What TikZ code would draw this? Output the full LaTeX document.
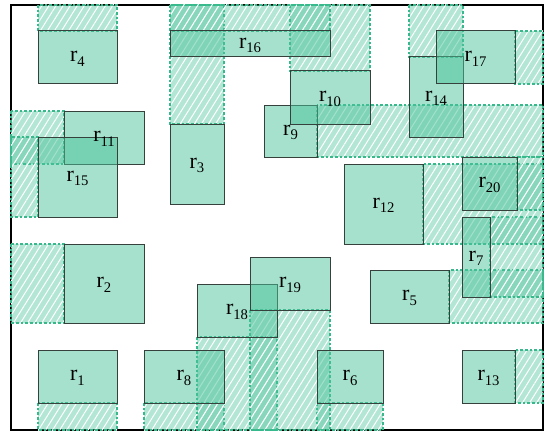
\documentclass[tikz,border=0pt]{standalone}
\usepackage{fontspec}
\setmainfont{Liberation Serif}
\usetikzlibrary{patterns.meta}
\definecolor{tealfill}{RGB}{75,195,155}
\definecolor{tealline}{RGB}{55,185,140}
\definecolor{boxline}{RGB}{55,65,60}
\newcommand\extrect[4]{%
  \path[extfill] (#1,#2) rectangle (#3,#4);
  \path[exthatch] (#1,#2) rectangle (#3,#4);
  \path[extedge] (#1,#2) rectangle (#3,#4);}
\newcommand\solidrect[5]{%
  \path[solidbox] (#2,#3) rectangle (#4,#5);
  \coordinate (c#1) at ({(#2+#4)/2},{(#3+#5)/2+1.5});}
\newcommand\sublab[1]{r\raisebox{-0.45ex}{\fontsize{11}{12}\selectfont #1}}
\begin{document}
\begin{tikzpicture}[x=0.75pt, y=-0.75pt,
  extfill/.style={fill=tealfill, fill opacity=0.42},
  exthatch/.style={pattern={Lines[angle=58,distance=4.5pt,line width=0.75pt]}, pattern color=white, fill opacity=0.6},
  extedge/.style={draw=tealline, line width=0.8pt, dash pattern=on 2pt off 1.5pt},
  solidbox/.style={fill=tealfill, fill opacity=0.5, draw=boxline, draw opacity=1, line width=0.75pt},
  lbl/.style={font=\fontsize{16.5}{18}\selectfont, inner sep=0pt, text opacity=1},
  frame/.style={draw=black, line width=1pt}]
\useasboundingbox (0,0) rectangle (546,435);
\path[frame] (11,5) rectangle (543,430);
% extensions
\extrect{38}{403}{117}{430}
\extrect{11}{244}{64}{323}
\extrect{170}{5}{224}{124}
\extrect{38}{5}{117}{31}
\extrect{449}{270}{543}{323}
\extrect{317}{403}{383}{430}
\extrect{490}{217}{543}{297}
\extrect{144}{403}{224}{430}
\extrect{317}{105}{543}{157}
\extrect{290}{5}{370}{71}
\extrect{11}{111}{64}{164}
\extrect{423}{164}{543}{244}
\extrect{515}{350}{543}{403}
\extrect{409}{5}{463}{57}
\extrect{11}{137}{38}{217}
\extrect{170}{5}{330}{31}
\extrect{515}{31}{543}{84}
\extrect{197}{337}{277}{430}
\extrect{250}{310}{330}{430}
\extrect{517}{157}{543}{210}
% solid boxes
\solidrect{1}{38}{350}{117}{403}
\solidrect{2}{64}{244}{144}{323}
\solidrect{3}{170}{124}{224}{204}
\solidrect{4}{38}{31}{117}{84}
\solidrect{5}{370}{270}{449}{323}
\solidrect{6}{317}{350}{383}{403}
\solidrect{7}{462}{217}{490}{297}
\solidrect{8}{144}{350}{224}{403}
\solidrect{9}{264}{105}{317}{157}
\solidrect{10}{290}{71}{370}{124}
\solidrect{11}{64}{111}{144}{164}
\solidrect{12}{344}{164}{423}{244}
\solidrect{13}{462}{350}{515}{403}
\solidrect{14}{409}{57}{463}{137}
\solidrect{15}{38}{137}{117}{217}
\solidrect{16}{170}{31}{330}{57}
\solidrect{17}{436}{31}{515}{84}
\solidrect{18}{197}{284}{277}{337}
\solidrect{19}{250}{257}{330}{310}
\solidrect{20}{462}{157}{517}{210}
% labels
\foreach \i in {1,...,20} \node[lbl] (r\i) at (c\i) {\sublab{\i}};
\end{tikzpicture}
\end{document}
